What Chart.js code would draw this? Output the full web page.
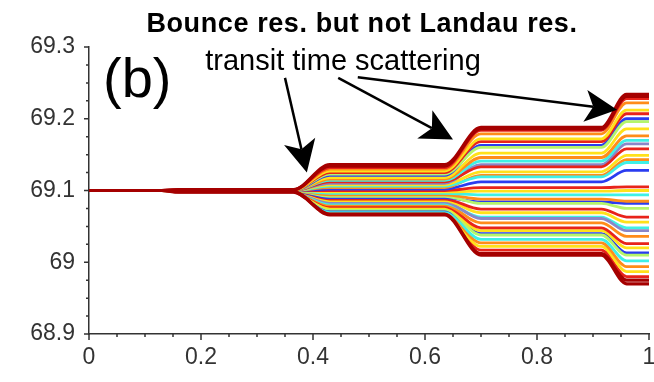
<!DOCTYPE html>
<html>
<head>
<meta charset="utf-8">
<script src="https://cdn.jsdelivr.net/npm/chart.js@4.4.1/dist/chart.umd.min.js"></script>
<style>
  html, body { margin: 0; padding: 0; background: #fff; }
</style>
</head>
<body>
<canvas id="chart" width="654" height="382"></canvas>
<script>
// x positions where each trajectory changes level (flat plateaus between the kicks)
const xKnots = [0, 0.13, 0.16, 0.365, 0.43, 0.635, 0.70, 0.915, 0.96, 1.0];
// which level array each knot uses: 0 = start, 1 = pre, 2..4 = after each kick
const knotStage = [0, 0, 1, 1, 2, 2, 3, 3, 4, 4];

const startValue = 69.1;
const preLevel = [69.1012, 69.101, 69.1008, 69.1005, 69.1003, 69.1002, 69.1001, 69.1, 69.1, 69.1,
  69.1, 69.1, 69.1, 69.1, 69.1, 69.1, 69.1, 69.1, 69.1, 69.1,
  69.1, 69.1, 69.1, 69.1, 69.1, 69.1, 69.1, 69.1, 69.0999, 69.0998,
  69.0996, 69.0994, 69.0992, 69.099, 69.0987, 69.0984, 69.098, 69.0976];
const level1 = [69.136, 69.134, 69.132, 69.130, 69.127, 69.125, 69.123, 69.121, 69.118, 69.116,
  69.114, 69.112, 69.110, 69.108, 69.106, 69.104, 69.102, 69.100, 69.098, 69.096,
  69.094, 69.092, 69.090, 69.088, 69.086, 69.084, 69.082, 69.080, 69.078, 69.076,
  69.074, 69.073, 69.071, 69.070, 69.069, 69.068, 69.067, 69.066];
const level2 = [69.188, 69.186, 69.184, 69.179, 69.172, 69.168, 69.160, 69.163, 69.152, 69.146,
  69.141, 69.133, 69.136, 69.126, 69.119, 69.121, 69.112, 69.104, 69.099, 69.094,
  69.088, 69.082, 69.084, 69.074, 69.069, 69.061, 69.063, 69.055, 69.048, 69.044,
  69.038, 69.040, 69.032, 69.027, 69.022, 69.017, 69.012, 69.010];
const level3 = [69.234, 69.231, 69.228, 69.222, 69.212, 69.207, 69.196, 69.200, 69.186, 69.176,
  69.170, 69.158, 69.165, 69.149, 69.139, 69.143, 69.128, 69.105, 69.100, 69.094,
  69.085, 69.075, 69.082, 69.063, 69.056, 69.044, 69.048, 69.036, 69.026, 69.020,
  69.010, 69.013, 69.002, 68.994, 68.987, 68.980, 68.975, 68.970];

const DR = '#a50000', R = '#e8231a', O = '#ff8c1a', Y = '#ffe11a', G = '#b5f56b',
  C = '#3ff0e6', B = '#2a3cf0', P = '#8a86c8';
const lineColors = [
  DR, DR, R, O, Y, R, G, B, Y, O,
  C, R, P, Y, C, O, B, R, Y, C,
  O, G, B, R, Y, P, C, O, R, Y,
  G, B, C, O, Y, R, DR, DR];

const xTicks = [0, 0.2, 0.4, 0.6, 0.8, 1];
const yTicks = [68.9, 69, 69.1, 69.2, 69.3];

const titleText = 'Bounce res. but not Landau res.';
const panelLabel = '(b)';
const noteText = 'transit time scattering';
// arrows from the note to each kick, in data units
const arrows = [
  { from: [0.35, 69.257], to: [0.389, 69.125] },
  { from: [0.445, 69.257], to: [0.65, 69.171] },
  { from: [0.48, 69.258], to: [0.943, 69.2125] }
];

const levels = [lineColors.map(() => startValue), preLevel, level1, level2, level3];

const datasets = lineColors.map((color, i) => ({
  data: xKnots.map((x, k) => ({ x, y: levels[knotStage[k]][i] })),
  borderColor: color,
  borderWidth: color === DR ? 3.2 : 2.8,
  order: color === DR ? 0 : 1,
  pointRadius: 0,
  cubicInterpolationMode: 'monotone'
}));

const tickFont = { family: 'Liberation Sans, Arial, sans-serif', size: 23 };
const axisColor = '#333';

function drawArrow(ctx, x0, y0, x1, y1) {
  const ang = Math.atan2(y1 - y0, x1 - x0);
  const c = Math.cos(ang), s = Math.sin(ang);
  const L = 32, W = 16;
  const bx = x1 - L * c, by = y1 - L * s;
  const nx = x1 - 0.75 * L * c, ny = y1 - 0.75 * L * s;
  ctx.beginPath();
  ctx.moveTo(x0, y0);
  ctx.lineTo(nx, ny);
  ctx.stroke();
  ctx.beginPath();
  ctx.moveTo(x1, y1);
  ctx.lineTo(bx - W * s, by + W * c);
  ctx.lineTo(nx, ny);
  ctx.lineTo(bx + W * s, by - W * c);
  ctx.closePath();
  ctx.fill();
}

const extras = {
  id: 'extras',
  afterDraw(chart) {
    const { ctx, chartArea: area, scales: { x, y } } = chart;
    ctx.save();
    // minor and major ticks, pointing outward
    ctx.strokeStyle = axisColor;
    ctx.lineWidth = 1.5;
    ctx.beginPath();
    for (let k = 0; k <= 16; k++) {
      const py = y.getPixelForValue(68.9 + k * 0.025);
      const len = k % 4 === 0 ? 5 : 3;
      ctx.moveTo(area.left, py);
      ctx.lineTo(area.left - len, py);
    }
    for (let k = 0; k <= 20; k++) {
      const px = x.getPixelForValue(k * 0.05);
      const len = k % 4 === 0 ? 6 : 3;
      ctx.moveTo(px, area.bottom);
      ctx.lineTo(px, area.bottom + len);
    }
    ctx.stroke();

    ctx.fillStyle = '#000';
    ctx.textBaseline = 'alphabetic';
    ctx.textAlign = 'center';
    ctx.font = 'bold 27px "Liberation Sans", Arial, sans-serif';
    ctx.letterSpacing = '0.6px';
    ctx.fillText(titleText, 362, 32);
    ctx.letterSpacing = '0px';

    ctx.font = '29px "Liberation Sans", Arial, sans-serif';
    ctx.fillText(noteText, x.getPixelForValue(0.4536), y.getPixelForValue(69.268));

    ctx.textAlign = 'left';
    ctx.font = '56px "Liberation Sans", Arial, sans-serif';
    ctx.fillText(panelLabel, x.getPixelForValue(0.025), y.getPixelForValue(69.2305));

    ctx.strokeStyle = '#000';
    ctx.lineWidth = 2.5;
    arrows.forEach(a => drawArrow(ctx,
      x.getPixelForValue(a.from[0]), y.getPixelForValue(a.from[1]),
      x.getPixelForValue(a.to[0]), y.getPixelForValue(a.to[1])));
    ctx.restore();
  }
};

new Chart(document.getElementById('chart'), {
  type: 'line',
  data: { datasets },
  plugins: [extras],
  options: {
    responsive: false,
    animation: false,
    events: [],
    layout: { padding: { top: 47, right: 5, left: 0, bottom: 0 }, autoPadding: false },
    plugins: { legend: { display: false }, tooltip: { enabled: false } },
    scales: {
      x: {
        type: 'linear', min: 0, max: 1,
        afterBuildTicks: s => { s.ticks = xTicks.map(v => ({ value: v })); },
        ticks: { font: tickFont, color: axisColor, padding: 10, maxRotation: 0,
          callback: v => String(+v.toFixed(1)) },
        grid: { display: false, drawTicks: false },
        border: { display: true, color: axisColor, width: 1.5 },
        afterFit: s => { s.height = 48; s.paddingLeft = 0; s.paddingRight = 0; }
      },
      y: {
        type: 'linear', min: 68.9, max: 69.3,
        afterBuildTicks: s => { s.ticks = yTicks.map(v => ({ value: v })); },
        ticks: { font: tickFont, color: axisColor, padding: 14,
          callback: v => String(+v.toFixed(1)) },
        grid: { display: false, drawTicks: false },
        border: { display: true, color: axisColor, width: 1.5 },
        afterFit: s => { s.width = 89; s.paddingTop = 0; s.paddingBottom = 0; }
      }
    }
  }
});
</script>
</body>
</html>
